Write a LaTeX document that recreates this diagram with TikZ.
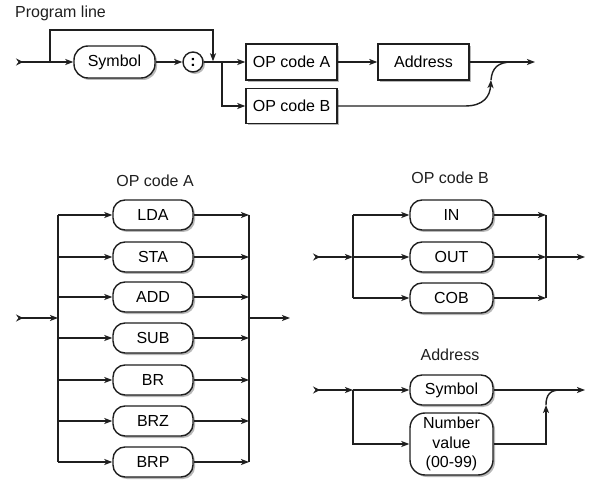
\documentclass[tikz,border=0pt]{standalone}
\usepackage{fontspec}
\setmainfont{Liberation Sans}
\usetikzlibrary{arrows.meta,shadows}
\begin{document}
\begin{tikzpicture}[x=1pt,y=-1pt,
  font=\fontsize{16}{19.5}\selectfont,
  line/.style={line width=1.4pt, draw=black!88},
  arr/.style={line, -{Stealth[length=8pt,width=6pt,inset=2pt]}},
  tailarr/.style={line, {Stealth[length=7pt,width=7pt,inset=2.5pt,reversed]}-{Stealth[length=8pt,width=6pt,inset=2pt]}},
  shad/.style={drop shadow={shadow xshift=2pt,shadow yshift=-2pt,fill=black!28,opacity=1}},
  term/.style={line, fill=white, rounded corners=12pt, minimum width=80pt, minimum height=30pt, inner sep=0pt, align=center, shad},
  nterm/.style={line, fill=white, minimum width=91pt, minimum height=36pt, inner sep=0pt, shad},
  ttl/.style={inner sep=0pt, text=black!88}]
\useasboundingbox (0,0) rectangle (592,489);

% ---------- Program line ----------
\node[ttl, anchor=west] (t1) at (15,13) {Program line};
\node[term, minimum width=81pt, minimum height=32pt, rounded corners=14pt] (sym) at (114.5,62) {Symbol};
\node[line, fill=white, circle, minimum size=20pt, inner sep=0pt, shad, font=\fontsize{16}{19.5}\selectfont\bfseries] (colon) at (193,62) {:};
\node[nterm] (opA) at (291.5,62) {OP code A};
\node[nterm, minimum height=35pt] (opB) at (291.5,106) {OP code B};
\node[nterm] (addr) at (423.5,62) {Address};

\coordinate (in1) at (16,62);
\coordinate (b1) at (50,62);
\coordinate (j1) at (213,62);
\coordinate (j2) at (222,62);
\coordinate (out1) at (535,62);
\coordinate (c1) at (491,80);
\coordinate (m1) at (512,62);

\draw[tailarr] (in1) -- (sym.west);
\draw[arr, shorten >=0.7pt] (b1) -- (50,30) -| (j1);
\draw[arr] (sym) -- (colon);
\draw[arr] (colon) -- (opA);
\draw[arr] (j2) |- (opB.west);
\draw[arr] (opA) -- (addr);
\draw[arr] (addr.east) -- (out1);
\draw[arr] (opB.east) -- (465,106) .. controls (484,106) and (490,96) .. (c1);
\draw[line] (c1) .. controls (492,68) and (498,62) .. (m1);

% ---------- OP code A ----------
\node[ttl] (t2) at (155,181) {OP code A};
\foreach \n/\y in {LDA/215, STA/257, ADD/297, SUB/338, BR/380, BRZ/421, BRP/462} {
  \node[term] (a\n) at (153,\y) {\n};
  \coordinate (la\n) at (58,\y);
  \coordinate (ra\n) at (249,\y);
  \draw[arr] (la\n) -- (a\n);
  \draw[arr] (a\n) -- (ra\n);
}
\draw[line] (laLDA) -- (laBRP);
\draw[line] (raLDA) -- (raBRP);
\coordinate (ina) at (16,318);
\coordinate (ja) at (58,318);
\coordinate (oa) at (249,318);
\coordinate (outa) at (290,318);
\draw[tailarr] (ina) -- (ja);
\draw[arr] (oa) -- (outa);

% ---------- OP code B ----------
\node[ttl] (t3) at (450,178) {OP code B};
\foreach \n/\y in {IN/215, OUT/257, COB/298} {
  \node[term, minimum width=83pt] (b\n) at (451.5,\y) {\n};
  \coordinate (lb\n) at (353,\y);
  \coordinate (rb\n) at (546,\y);
  \draw[arr] (lb\n) -- (b\n);
  \draw[arr] (b\n) -- (rb\n);
}
\draw[line] (lbIN) -- (lbCOB);
\draw[line] (rbIN) -- (rbCOB);
\coordinate (inb) at (313,257);
\coordinate (outb) at (585,257);
\draw[tailarr] (inb) -- (lbOUT);
\draw[arr] (rbOUT) -- (outb);

% ---------- Address ----------
\node[ttl] (t4) at (450,355) {Address};
\node[term, minimum width=83pt] (adS) at (451.5,390) {Symbol};
\node[term, minimum width=83pt, minimum height=62pt, rounded corners=15pt] (adN) at (451.5,444) {Number\\value\\(00-99)};
\coordinate (inc) at (313,390);
\coordinate (jc) at (353,390);
\coordinate (outc) at (585,390);
\coordinate (c2) at (546,405);
\coordinate (m2) at (560,390);
\draw[tailarr] (inc) -- (jc);
\draw[arr] (jc) -- (adS);
\draw[arr] (jc) |- (adN.west);
\draw[arr] (adS.east) -- (outc);
\draw[arr] (adN.east) -| (c2);
\draw[line] (c2) .. controls (546,395) and (550,390) .. (m2);
\end{tikzpicture}
\end{document}
